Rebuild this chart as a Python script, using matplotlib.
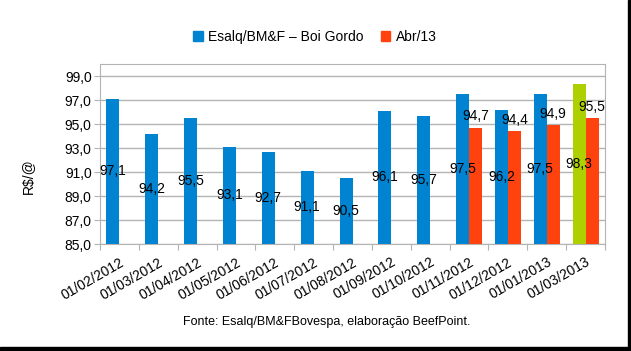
import numpy as np
import matplotlib
matplotlib.use("Agg")
import matplotlib.pyplot as plt
from matplotlib.patches import Patch, Rectangle

plt.rcParams["font.family"] = ["Liberation Sans", "DejaVu Sans"]

# data
dates = ["01/02/2012", "01/03/2012", "01/04/2012", "01/05/2012", "01/06/2012",
         "01/07/2012", "01/08/2012", "01/09/2012", "01/10/2012", "01/11/2012",
         "01/12/2012", "01/01/2013", "01/03/2013"]
esalq = [97.1, 94.2, 95.5, 93.1, 92.7, 91.1, 90.5, 96.1, 95.7, 97.5, 96.2, 97.5, 98.3]
abr13 = [None, None, None, None, None, None, None, None, None, 94.7, 94.4, 94.9, 95.5]

BLUE = "#0084d1"
RED = "#ff420e"
GREEN = "#aecf00"
GRID = "#b3b3b3"
BASE = 85.0


def fmt(v):
    return f"{v:.1f}".replace(".", ",")


fig = plt.figure(figsize=(6.31, 3.51), dpi=100)
ax = fig.add_axes([100 / 631, 1 - 244 / 351, 505 / 631, 180 / 351])

x = np.arange(len(dates))
w = 1 / 3
blue_colors = [BLUE] * (len(dates) - 1) + [GREEN]

ax.bar(x - w / 2, np.array(esalq) - BASE, bottom=BASE, width=w,
       color=blue_colors, zorder=3)
for xi, v in zip(x, esalq):
    ax.text(xi - w / 2, (BASE + v) / 2, fmt(v), ha="center", va="center",
            fontsize=10, zorder=4)

idx = [i for i, v in enumerate(abr13) if v is not None]
vals = [abr13[i] for i in idx]
ax.bar(x[idx] + w / 2, np.array(vals) - BASE, bottom=BASE, width=w,
       color=RED, zorder=3)
for i, v in zip(idx, vals):
    ax.annotate(fmt(v), (x[i] + w / 2, v), xytext=(0, 3), textcoords="offset points",
                ha="center", va="bottom", fontsize=10, zorder=4)

ax.set_xlim(-0.5, len(dates) - 0.5)
ax.set_ylim(85, 100)
ax.set_yticks(np.arange(85, 100, 2))
ax.set_yticklabels([fmt(t) for t in np.arange(85, 100, 2)], fontsize=10)
ax.yaxis.grid(True, color=GRID, linewidth=1, zorder=0)
ax.tick_params(axis="y", length=4, color=GRID, pad=2)

# category boundaries get the tick marks, labels sit at the centres
ax.set_xticks(np.arange(-0.5, len(dates), 1))
ax.set_xticklabels([])
ax.tick_params(axis="x", length=4, color=GRID)
for xi, lab in zip(x, dates):
    ax.annotate(lab, (xi, BASE), xytext=(0, -8), textcoords="offset points",
                rotation=30, rotation_mode="anchor", ha="right", va="top",
                fontsize=10, annotation_clip=False)

for s in ax.spines.values():
    s.set_color(GRID)

fig.text(28 / 631, 1 - 176 / 351, "R$/@", rotation=90, ha="center", va="center", fontsize=10)

handles = [Patch(color=BLUE, label="Esalq/BM&F – Boi Gordo"),
           Patch(color=RED, label="Abr/13")]
fig.legend(handles=handles, loc="center", bbox_to_anchor=(315 / 631, 1 - 37 / 351),
           ncol=2, frameon=False, fontsize=10, handlelength=0.7, handleheight=0.7,
           handletextpad=0.4, columnspacing=1.2)

fig.text(327 / 631, 1 - 322 / 351, "Fonte: Esalq/BM&FBovespa, elaboração BeefPoint.",
         ha="center", va="center", fontsize=9)

# dark frame on the right and bottom edge
fig.add_artist(Rectangle((628 / 631, 0), 3 / 631, 1, transform=fig.transFigure,
                         color="black", zorder=10))
fig.add_artist(Rectangle((0, 0), 1, 4 / 351, transform=fig.transFigure,
                         color="black", zorder=10))

fig.savefig("out.png", dpi=100)
